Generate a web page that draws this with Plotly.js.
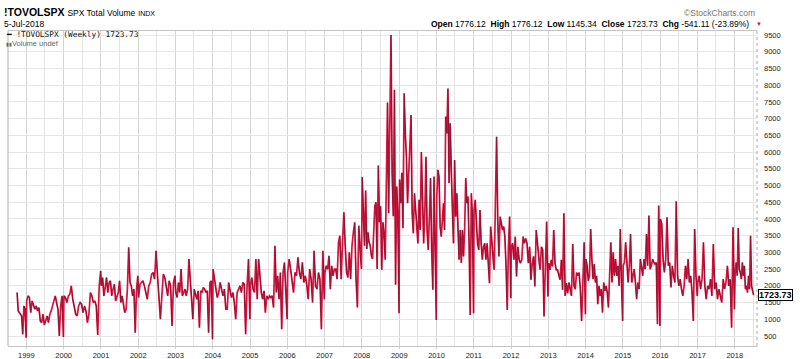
<!DOCTYPE html>
<html><head><meta charset="utf-8">
<script src="https://cdn.plot.ly/plotly-3.0.1.min.js"></script>
<style>html,body{margin:0;padding:0;background:#fff}#chart{width:800px;height:359px}</style>
</head><body><div id="chart"></div>
<script>
// Weekly total volume (millions), grouped by year
const v1998 = [1800, 1250, 1200, 1150, 1100, 550, 1400, 1300, 450];
const v1999 = [1550, 1700, 1650, 1200, 1550, 1450, 1300, 1400, 1250, 1350, 950, 900, 1150, 830, 1000, 1100, 900, 1150, 1250, 1450, 1550, 1700, 1450, 1300, 500, 1400, 1700, 470];
const v2000 = [1700, 1650, 1500, 1700, 1750, 2000, 1600, 1400, 1150, 1100, 1400, 1500, 1450, 1200, 1400, 1250, 900, 1150, 1800, 1700, 1500, 1550, 1400, 530, 2000, 2450];
const v2001 = [2000, 2250, 1700, 1950, 2250, 1800, 2100, 2150, 1700, 1900, 2050, 1550, 1700, 1800, 2150, 1500, 1700, 1400, 1200, 1300, 1900, 3150, 2100, 2000, 1700, 1900, 600, 1900, 2300];
const v2002 = [1650, 2050, 2100, 2150, 2000, 1800, 1600, 2000, 2100, 2350, 2400, 2200, 3050, 2300, 1700, 1000, 1700, 2350, 2250, 2000, 1700, 2150, 2000, 800, 2100, 2300];
const v2003 = [1800, 1650, 2100, 1800, 2500, 1700, 1800, 1900, 1700, 1900, 2800, 2100, 1700, 1000, 1900, 1750, 1600, 1850, 750, 1850, 1800, 1950, 1900, 1800, 1850, 600, 2100, 2150, 400];
const v2004 = [2500, 2200, 1850, 1650, 1800, 2100, 1900, 1700, 1900, 1300, 1300, 2100, 1850, 1650, 1800, 1500, 1000, 1800, 1900, 2000, 1800, 2100, 2050, 550, 2000, 2800, 1000];
const v2005 = [2000, 2250, 1900, 1800, 2800, 1600, 2800, 2300, 1800, 1600, 1850, 1200, 1700, 1600, 1700, 1650, 1700, 1350, 3200, 1800, 2300, 1600, 2400, 700, 2400, 2700, 1800, 1000];
const v2006 = [2400, 2800, 2500, 2150, 1800, 2400, 2300, 2850, 2400, 2200, 2700, 2100, 2300, 2050, 1600, 2500, 2200, 1500, 3050, 2000, 1900, 2400, 2200, 700, 3050, 1600];
const v2007 = [2400, 2600, 2500, 2900, 1900, 2600, 2300, 2500, 2500, 2200, 3300, 3500, 2200, 3300, 4200, 3200, 2400, 2250, 3000, 2200, 3200, 3600, 3900, 2200, 1350, 3800, 2900, 2500];
const v2008 = [5250, 4400, 3200, 4850, 3100, 3600, 3300, 3200, 2900, 2800, 3600, 4400, 4500, 2500, 5600, 3900, 4380, 2480, 3900, 3580, 2780, 5170, 7480, 4170, 7880, 9500, 5380, 4080, 7860, 2030, 4970, 4080, 1180];
const v2009 = [5180, 4470, 5380, 3720, 7760, 6560, 5860, 4470, 5470, 6370, 7110, 4170, 3570, 4770, 4270, 3970, 3270, 4570, 3670, 6000, 4770, 3270, 4170, 5860, 3670, 3070, 4070, 5220, 3070, 1880, 5270, 3070, 980];
const v2010 = [4670, 5470, 5270, 3770, 3470, 3870, 4470, 3670, 7060, 6560, 7900, 5070, 6860, 5470, 4070, 3270, 5760, 4070, 4770, 3670, 2780, 3670, 2680, 3670, 2880, 3670, 5220, 4470, 4670, 3270, 1130, 4770, 4070, 1180];
const v2011 = [4270, 4570, 3670, 3270, 3070, 4270, 3270, 2780, 3170, 3270, 2780, 3270, 2680, 2080, 3770, 3270, 2680, 2480, 4470, 6460, 3970, 2880, 4070, 3870, 3670, 3770, 3470, 2580, 1280, 3170, 4070, 1630];
const v2012 = [3170, 3270, 2780, 3470, 2280, 3170, 2780, 2680, 2780, 3470, 3270, 3420, 3270, 2680, 3170, 2180, 2680, 2880, 1980, 3670, 3270, 2680, 2480, 3170, 3070, 1080, 2480, 3920, 1680];
const v2013 = [2680, 2480, 2780, 2580, 3670, 2680, 2480, 2480, 2280, 2180, 2780, 1880, 4170, 1700, 2080, 1780, 2100, 1900, 1700, 3250, 2000, 1900, 2400, 2300, 2400, 1900, 950, 2100, 3300, 1150];
const v2014 = [2800, 2600, 2150, 2300, 3700, 2800, 2200, 2650, 2100, 2300, 1450, 2000, 1700, 1900, 1200, 2100, 1850, 2000, 1800, 1350, 2300, 3300, 2100, 3000, 2300, 2800, 2300, 2600, 2000, 3700, 2100, 950];
const v2015 = [2600, 2700, 3300, 2800, 2100, 2600, 3550, 2100, 2300, 2500, 2100, 1600, 2100, 1900, 2800, 2600, 2300, 2800, 2500, 3550, 2600, 4100, 2500, 2600, 2800, 2700, 2650, 2700, 850, 4400, 800];
const v2016 = [4000, 3850, 2800, 2400, 2800, 4050, 2600, 2700, 1950, 2600, 2300, 2100, 4530, 2300, 2000, 2200, 1900, 1700, 2000, 2600, 2200, 2800, 2100, 2300, 1800, 950, 3700, 2300, 1700];
const v2017 = [2100, 2300, 1900, 2200, 3300, 2000, 1600, 2000, 1900, 2200, 1700, 3250, 1900, 2100, 1600, 1900, 1700, 1500, 2200, 1900, 2100, 2600, 2000, 2200, 750, 3750, 1300];
const v2018 = [2400, 2700, 2300, 3730, 2500, 2400, 2200, 2700, 2300, 2600, 1900, 2000, 1800, 2300, 1900, 3500, 2000, 1850, 1723.73];

// first and last observation date of each yearly block
const blockStarts = ['1998-10-02','1999-01-04','2000-01-04','2001-01-04','2002-01-04','2003-01-04','2004-01-04','2005-01-04','2006-01-04','2007-01-04','2008-01-04','2009-01-04','2010-01-04','2011-01-04','2012-01-04','2013-01-04','2014-01-04','2015-01-04','2016-01-04','2017-01-04','2018-01-05'];
const blockEnds   = ['1998-12-30','1999-12-30','2000-12-29','2001-12-28','2002-12-27','2003-12-30','2004-12-30','2005-12-30','2006-12-29','2007-12-28','2008-12-30','2009-12-30','2010-12-30','2011-12-30','2012-12-28','2013-12-30','2014-12-30','2015-12-30','2016-12-30','2017-12-29','2018-07-05'];
const blocks = [v1998,v1999,v2000,v2001,v2002,v2003,v2004,v2005,v2006,v2007,v2008,v2009,v2010,v2011,v2012,v2013,v2014,v2015,v2016,v2017,v2018];

const quote = {symbol:'!TOVOLSPX', name:'SPX Total Volume', exch:'INDX', date:'5-Jul-2018',
  open:'1776.12', high:'1776.12', low:'1145.34', close:'1723.73', chg:'-541.11', chgPct:'(-23.89%)'};

const xs = [], ys = [];
blocks.forEach((vals, b) => {
  const t0 = Date.parse(blockStarts[b] + 'T00:00:00Z'), t1 = Date.parse(blockEnds[b] + 'T00:00:00Z');
  const n = vals.length;
  vals.forEach((v, i) => {
    const t = t0 + (t1 - t0) * (n > 1 ? i / (n - 1) : 0);
    xs.push(new Date(t).toISOString().slice(0, 19).replace('T', ' '));
    ys.push(v);
  });
});
// falling segments drawn with a thin dark core on top of the red line
const dx = [], dy = [];
for (let i = 0; i < ys.length - 1; i++) {
  if (ys[i + 1] < ys[i]) { dx.push(xs[i], xs[i + 1], null); dy.push(ys[i], ys[i + 1], null); }
}
const last = ys[ys.length - 1];

const RED = '#d3123e';
const traces = [
  {x: xs, y: ys, type: 'scatter', mode: 'lines', line: {color: RED, width: 1.7}, hoverinfo: 'skip'},
  {x: dx, y: dy, type: 'scatter', mode: 'lines', line: {color: 'rgba(40,20,25,0.5)', width: 0.8}, hoverinfo: 'skip', connectgaps: false}
];

const PL = 8, PR = 757, PT = 31, PB = 346;
const px = p => (p - PL) / (PR - PL);
const py = p => (PB - p) / (PB - PT);
const F = 'Liberation Sans, Arial, sans-serif';

const layout = {
  width: 800, height: 359,
  margin: {l: PL, r: 800 - PR, t: PT, b: 359 - PB, pad: 0},
  paper_bgcolor: '#fff', plot_bgcolor: '#fff', showlegend: false,
  font: {family: F, size: 8, color: '#222'},
  xaxis: {
    type: 'date', range: ['1998-07-05', '2018-08-07'],
    tickmode: 'linear', tick0: '1999-01-01', dtick: 'M12', tickformat: '%Y',
    showgrid: true, gridcolor: '#d4d4d4', gridwidth: 1,
    minor: {tickmode: 'linear', tick0: '1999-07-01', dtick: 'M6', showgrid: true, gridcolor: '#e4e4e4', gridwidth: 1},
    showline: true, linecolor: '#c4c4c4', linewidth: 1, mirror: true,
    ticks: 'outside', ticklen: 2, tickcolor: '#d0d0d0',
    tickfont: {family: F, size: 7.5, color: '#222'}, zeroline: false, fixedrange: true
  },
  yaxis: {
    side: 'right', range: [201, 9620], tickmode: 'linear', tick0: 0, dtick: 500, tickformat: 'd',
    showgrid: true, gridcolor: '#e6e6e6', gridwidth: 1, showline: false, zeroline: false,
    ticks: '', ticklabelstandoff: 6, tickfont: {family: F, size: 7.5, color: '#222'}, fixedrange: true
  },
  shapes: [
    {type: 'line', xref: 'paper', yref: 'paper', x0: 1, x1: 1, y0: 0, y1: 1, line: {color: '#a8a8a8', width: 1, dash: 'dot'}},
    {type: 'line', xref: 'paper', yref: 'paper', x0: 0, x1: 0, y0: 0, y1: 1, line: {color: '#b0b0b0', width: 1}}
  ],
  annotations: [
    {xref: 'paper', yref: 'paper', x: px(2), y: py(12.5), xanchor: 'left', yanchor: 'middle', showarrow: false,
     text: '<b>' + quote.symbol + '</b> <span style="font-size:8.5px">' + quote.name + '</span> <span style="font-size:7px">' + quote.exch + '</span>',
     font: {family: F, size: 10.5, color: '#000'}},
    {xref: 'paper', yref: 'paper', x: px(2), y: py(24), xanchor: 'left', yanchor: 'middle', showarrow: false,
     text: quote.date, font: {family: F, size: 8.5, color: '#000'}},
    {xref: 'paper', yref: 'paper', x: px(757), y: py(13), xanchor: 'right', yanchor: 'middle', showarrow: false,
     text: '©StockCharts.com', font: {family: F, size: 8.5, color: '#777'}},
    {xref: 'paper', yref: 'paper', x: px(751), y: py(24), xanchor: 'right', yanchor: 'middle', showarrow: false,
     text: '<b>Open</b> ' + quote.open + '  <b>High</b> ' + quote.high + '  <b>Low</b> ' + quote.low +
           '  <b>Close</b> ' + quote.close + '  <b>Chg</b> ' + quote.chg + ' ' + quote.chgPct,
     font: {family: F, size: 8.5, color: '#000'}},
    {xref: 'paper', yref: 'paper', x: px(754), y: py(24), xanchor: 'left', yanchor: 'middle', showarrow: false,
     text: '▼', font: {family: F, size: 6, color: RED}},
    {xref: 'paper', yref: 'paper', x: px(5), y: py(35), xanchor: 'left', yanchor: 'middle', showarrow: false,
     text: '<b>━</b> ' + quote.symbol + ' (Weekly) ' + last.toFixed(2),
     font: {family: 'DejaVu Sans Mono, monospace', size: 7.8, color: '#111'}, borderpad: 0},
    {xref: 'paper', yref: 'paper', x: px(5), y: py(44), xanchor: 'left', yanchor: 'middle', showarrow: false,
     text: '<span style="font-size:5px">▮▮</span>Volume undef',
     font: {family: F, size: 7.5, color: '#666'}, borderpad: 0},
    {xref: 'paper', yref: 'y', x: 1, y: last, xanchor: 'left', yanchor: 'middle', xshift: 1, showarrow: false,
     text: '<b>' + last.toFixed(2) + '</b>', bgcolor: '#fff', bordercolor: '#000', borderwidth: 1, borderpad: 0,
     font: {family: F, size: 9, color: '#000'}}
  ]
};

Plotly.newPlot('chart', traces, layout, {displayModeBar: false, staticPlot: true});
</script>
</body></html>
